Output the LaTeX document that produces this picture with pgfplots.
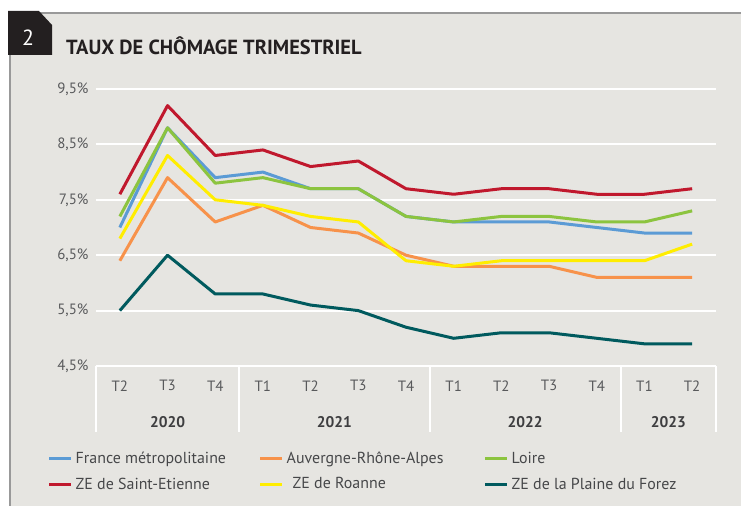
\documentclass[border=0pt]{standalone}
\usepackage{pgfplots}
\pgfplotsset{compat=1.18}
\usepackage{fontspec}
\setmainfont{PT Sans}
\definecolor{bg}{HTML}{E6E5E1}
\definecolor{boxblack}{HTML}{231F20}
\definecolor{titlecol}{HTML}{231F20}
\definecolor{tickcol}{HTML}{58595B}
\definecolor{cFrance}{HTML}{5B9BD5}
\definecolor{cAura}{HTML}{F7924A}
\definecolor{cLoire}{HTML}{8CC43F}
\definecolor{cStE}{HTML}{C0182D}
\definecolor{cRoanne}{HTML}{FFED00}
\definecolor{cForez}{HTML}{005A5E}
\begin{document}
\begin{tikzpicture}
\useasboundingbox (0bp,0bp) rectangle (741bp,506bp);
\fill[white] (0bp,0bp) rectangle (741bp,506bp);
\fill[bg] (10bp,0bp) rectangle (741bp,493bp);
\draw[black!40, line width=1.2bp] (10bp,0bp) -- (10bp,493bp) -- (741bp,493bp);
\fill[boxblack] (8bp,451bp) -- (8bp,495bp) -- (39bp,495bp) -- (52bp,481bp) -- (52bp,451bp) -- cycle;
\node[white, font=\fontsize{22}{22}\selectfont] at (28bp,468bp) {2};
\node[anchor=base west, inner sep=0pt, font=\bfseries\fontsize{20.5}{20.5}\selectfont, text=titlecol] at (66bp,451bp) {TAUX DE CHÔMAGE TRIMESTRIEL};
\begin{axis}[
  at={(96bp,140bp)}, anchor=south west, scale only axis,
  width=620bp, height=277bp,
  xmin=-0.5, xmax=12.5, ymin=4.5, ymax=9.5,
  clip=false,
  axis line style={draw=none},
  major tick length=0pt,
  ymajorgrids, grid style={white, line width=2bp},
  ytick={4.5,5.5,6.5,7.5,8.5,9.5},
  yticklabels={{4,5\%},{5,5\%},{6,5\%},{7,5\%},{8,5\%},{9,5\%}},
  xtick={0,...,12},
  xticklabels={T2,T3,T4,T1,T2,T3,T4,T1,T2,T3,T4,T1,T2},
  /pgf/number format/assume math mode=true,
  ticklabel style={font=\fontsize{15}{15}\selectfont, text=tickcol},
  yticklabel style={anchor=east, xshift=-4bp},
  xticklabel style={anchor=north, yshift=-11bp},
  legend columns=3,
  legend cell align=left,
  legend image code/.code={\draw[#1, line width=3bp] (0bp,0bp) -- (22bp,0bp);},
  legend style={draw=none, fill=none, at={(-0.083,-0.295)}, anchor=north west,
    font=\fontsize{16}{16}\selectfont, text=tickcol!80!black,
    row sep=8bp, column sep=0bp,
    nodes={inner xsep=3bp, inner ysep=2bp}},
  every axis plot/.append style={line width=3bp, line join=round},
]
\addplot[cFrance] coordinates {(0,7.0) (1,8.8) (2,7.9) (3,8.0) (4,7.7) (5,7.7) (6,7.2) (7,7.1) (8,7.1) (9,7.1) (10,7.0) (11,6.9) (12,6.9)};
\addlegendentry{\makebox[180bp][l]{France métropolitaine}}
\addplot[cAura] coordinates {(0,6.4) (1,7.9) (2,7.1) (3,7.4) (4,7.0) (5,6.9) (6,6.5) (7,6.3) (8,6.3) (9,6.3) (10,6.1) (11,6.1) (12,6.1)};
\addlegendentry{\makebox[194bp][l]{Auvergne-Rhône-Alpes}}
\addplot[cLoire] coordinates {(0,7.2) (1,8.8) (2,7.8) (3,7.9) (4,7.7) (5,7.7) (6,7.2) (7,7.1) (8,7.2) (9,7.2) (10,7.1) (11,7.1) (12,7.3)};
\addlegendentry{Loire}
\addplot[cStE] coordinates {(0,7.6) (1,9.2) (2,8.3) (3,8.4) (4,8.1) (5,8.2) (6,7.7) (7,7.6) (8,7.7) (9,7.7) (10,7.6) (11,7.6) (12,7.7)};
\addlegendentry{\makebox[180bp][l]{ZE de Saint-Etienne}}
\addplot[cRoanne] coordinates {(0,6.8) (1,8.3) (2,7.5) (3,7.4) (4,7.2) (5,7.1) (6,6.4) (7,6.3) (8,6.4) (9,6.4) (10,6.4) (11,6.4) (12,6.7)};
\addlegendentry{\makebox[194bp][l]{\hspace{6bp}\raisebox{3bp}{ZE de Roanne}}}
\addplot[cForez] coordinates {(0,5.5) (1,6.5) (2,5.8) (3,5.8) (4,5.6) (5,5.5) (6,5.2) (7,5.0) (8,5.1) (9,5.1) (10,5.0) (11,4.9) (12,4.9)};
\addlegendentry{ZE de la Plaine du Forez}
\draw[white, line width=2bp] (axis cs:-0.5,4.5) -- (axis cs:-0.5,3.3);
\draw[white, line width=2bp] (axis cs:2.5,4.5) -- (axis cs:2.5,3.3);
\draw[white, line width=2bp] (axis cs:6.5,4.5) -- (axis cs:6.5,3.3);
\draw[white, line width=2bp] (axis cs:10.5,4.5) -- (axis cs:10.5,3.3);
\draw[white, line width=2bp] (axis cs:12.5,4.5) -- (axis cs:12.5,3.3);
\node[font=\fontsize{15.5}{15.5}\selectfont\bfseries, text=tickcol!70!black] at (axis cs:1,3.49) {2020};
\node[font=\fontsize{15.5}{15.5}\selectfont\bfseries, text=tickcol!70!black] at (axis cs:4.5,3.49) {2021};
\node[font=\fontsize{15.5}{15.5}\selectfont\bfseries, text=tickcol!70!black] at (axis cs:8.5,3.49) {2022};
\node[font=\fontsize{15.5}{15.5}\selectfont\bfseries, text=tickcol!70!black] at (axis cs:11.5,3.49) {2023};
\end{axis}
\end{tikzpicture}
\end{document}
